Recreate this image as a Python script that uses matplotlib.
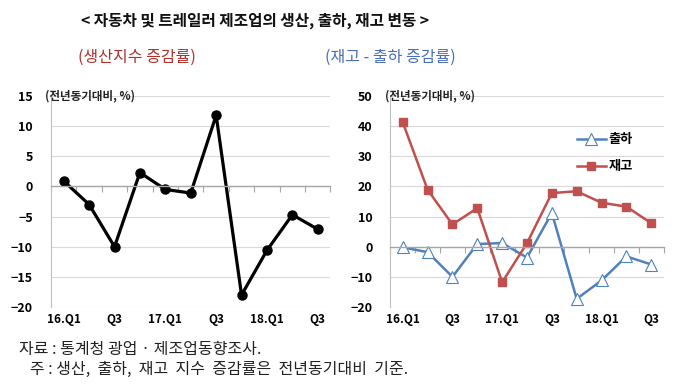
import matplotlib.pyplot as plt
import numpy as np

plt.rcParams['font.family'] = ['Noto Sans CJK KR', 'DejaVu Sans']

quarters = ['16.Q1', '16.Q2', '16.Q3', '16.Q4', '17.Q1', '17.Q2', '17.Q3', '17.Q4',
            '18.Q1', '18.Q2', '18.Q3']
tick_labels = ['16.Q1', '', 'Q3', '', '17.Q1', '', 'Q3', '', '18.Q1', '', 'Q3']

production = [0.9, -3.0, -10.0, 2.3, -0.5, -1.1, 11.8, -18.0, -10.6, -4.7, -7.1]
shipment = [-0.2, -1.8, -10.0, 0.9, 1.2, -3.6, 11.2, -17.3, -11.2, -3.2, -5.9]
inventory = [41.3, 18.9, 7.4, 12.8, -11.8, 1.2, 17.8, 18.4, 14.6, 13.3, 7.8]

fig = plt.figure(figsize=(6.8, 3.85), dpi=100)
ax1 = fig.add_axes([0.075, 0.2026, 0.411, 0.548])
ax2 = fig.add_axes([0.574, 0.2026, 0.402, 0.548])

x = np.arange(len(quarters))


def style_axis(ax, ylim, step):
    ax.set_xlim(-0.5, len(quarters) - 0.5)
    ax.set_ylim(*ylim)
    ax.set_yticks(np.arange(ylim[0], ylim[1] + 1, step))
    ax.grid(axis='y', color='#d9d9d9', lw=0.8)
    ax.set_axisbelow(True)
    for s in ['top', 'right']:
        ax.spines[s].set_visible(False)
    ax.spines['left'].set_color('#bfbfbf')
    ax.spines['bottom'].set_position(('data', 0))
    ax.spines['bottom'].set_color('#a6a6a6')
    ax.spines['bottom'].set_linewidth(1.0)
    ax.set_xticks(np.arange(-0.5, len(quarters), 1))
    ax.tick_params(axis='x', length=4, color='#a6a6a6', labelbottom=False)
    ax.tick_params(axis='y', length=0, labelsize=9, pad=13)
    for lab in ax.get_yticklabels():
        lab.set_fontweight('bold')
    sec = ax.secondary_xaxis('bottom')
    sec.set_xticks(x)
    sec.set_xticklabels(tick_labels, fontsize=8.5, fontweight='bold')
    sec.tick_params(length=0, pad=4)
    sec.spines['bottom'].set_visible(False)
    ax.text(-0.72, ylim[1], '(전년동기대비, %)', fontsize=8.3, fontweight='bold',
            va='center', ha='left', color='#222222')


style_axis(ax1, (-20, 15), 5)
style_axis(ax2, (-20, 50), 10)

ax1.plot(x, production, color='black', lw=2.3, marker='o', ms=6.5)

ax2.plot(x, shipment, color='#4f81bd', lw=1.8, marker='^', ms=8.5,
         mfc='white', mec='#4f81bd', mew=0.8, label='출하')
ax2.plot(x, inventory, color='#c0504d', lw=1.8, marker='s', ms=6,
         label='재고')
ax2.legend(loc='upper right', bbox_to_anchor=(0.93, 0.885), frameon=False,
           prop={'size': 9.5, 'weight': 'bold'}, handlelength=2.2,
           labelspacing=1.0, handletextpad=0.2)

fig.text(0.375, 0.945, '< 자동차 및 트레일러 제조업의 생산, 출하, 재고 변동 >',
         ha='center', va='center', fontsize=11.3, fontweight='bold',
         color='#111111')
fig.text(0.115, 0.852, '(생산지수 증감률)', ha='left', va='center',
         fontsize=11.5, color='#b0302a')
fig.text(0.478, 0.852, '(재고 - 출하 증감률)', ha='left', va='center',
         fontsize=11.5, color='#4a6fb5')

fig.text(0.028, 0.092, '자료 : 통계청 광업 · 제조업동향조사.', ha='left', va='center',
         fontsize=11.5, color='#222222')
fig.text(0.028, 0.04, '   주 : 생산,  출하,  재고  지수  증감률은  전년동기대비  기준.',
         ha='left', va='center', fontsize=11.5, color='#222222')

fig.savefig('out.png', dpi=100)
